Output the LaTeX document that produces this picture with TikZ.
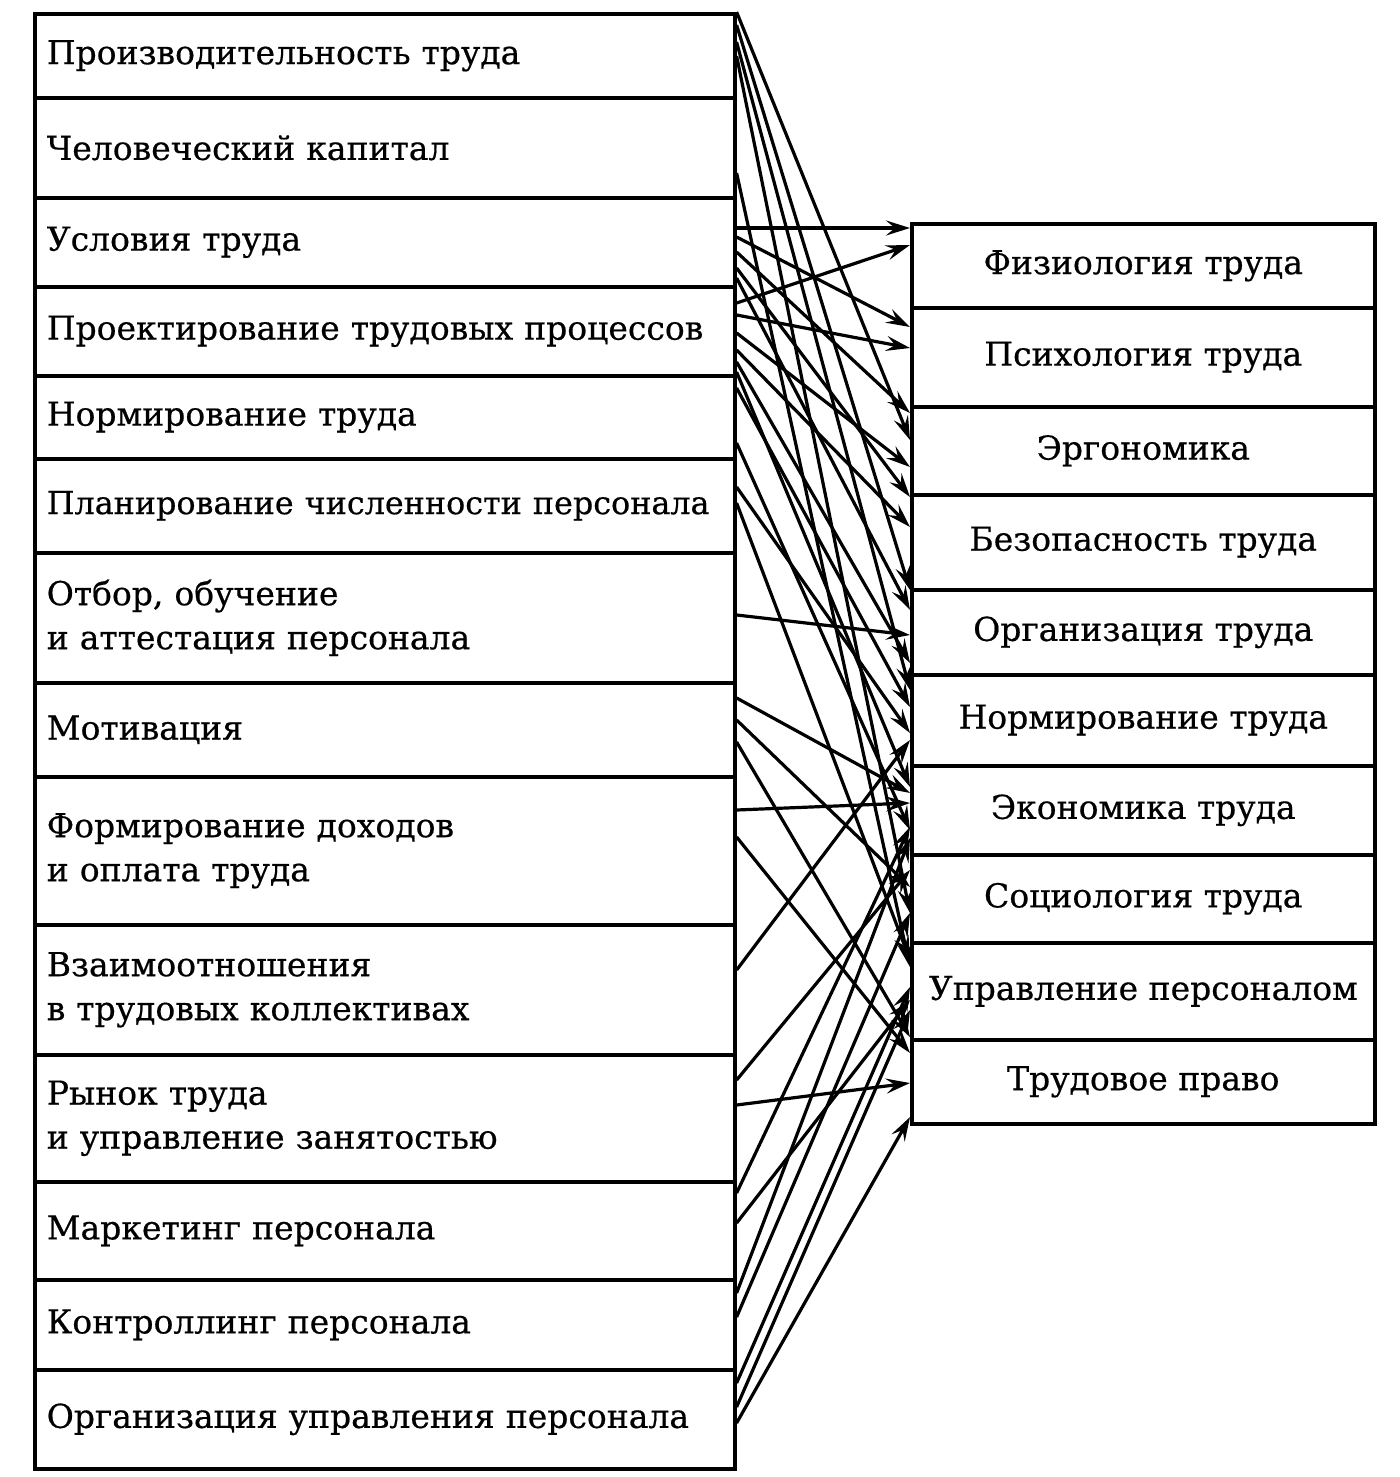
\documentclass[tikz,border=0pt]{standalone}
\usepackage{fontspec}
\setmainfont{DejaVu Serif}
\newfontfamily\rowfont[FakeBold=0.5]{DejaVu Serif}
\usetikzlibrary{arrows.meta}
\begin{document}
\begin{tikzpicture}[x=0.5pt,y=-0.5pt,
  rowbox/.style={draw,line width=1.8pt,anchor=north west,inner xsep=6pt,inner ysep=0pt,
    font=\rowfont\fontsize{16.5}{22}\selectfont},
  lrow/.style={rowbox,minimum width=350pt,text width=338pt,align=left},
  rrow/.style={rowbox,minimum width=231.5pt,align=center},
  arr/.style={line width=1.6pt,-{Stealth[length=12pt,width=7.5pt,inset=4.5pt]}}]
\useasboundingbox (0,0) rectangle (1400,1477);
\fill[white] (0,0) rectangle (1400,1477);
% left column
\node[lrow,minimum height=42pt] (l1) at (33,12) {Производительность труда};
\node[lrow,minimum height=50pt] (l2) at (33,96) {Человеческий капитал};
\node[lrow,minimum height=44.5pt] (l3) at (33,196) {Условия труда};
\node[lrow,minimum height=44.5pt] (l4) at (33,285) {\mbox{Проектирование трудовых процессов}};
\node[lrow,minimum height=41.5pt] (l5) at (33,374) {Нормирование труда};
\node[lrow,minimum height=47pt] (l6) at (33,457) {\mbox{\fontsize{15.9}{22}\selectfont Планирование численности персонала}};
\node[lrow,minimum height=65pt] (l7) at (33,551) {Отбор, обучение\\и аттестация персонала};
\node[lrow,minimum height=47pt] (l8) at (33,681) {Мотивация};
\node[lrow,minimum height=74pt] (l9) at (33,775) {Формирование доходов\\и оплата труда};
\node[lrow,minimum height=65pt] (l10) at (33,923) {Взаимоотношения\\в трудовых коллективах};
\node[lrow,minimum height=63.5pt] (l11) at (33,1053) {Рынок труда\\и управление занятостью};
\node[lrow,minimum height=49pt] (l12) at (33,1180) {Маркетинг персонала};
\node[lrow,minimum height=45pt] (l13) at (33,1278) {Контроллинг персонала};
\node[lrow,minimum height=49.5pt] (l14) at (33,1368) {\mbox{Организация управления персонала}};
% right column
\node[rrow,minimum height=42pt] (r1) at (910,222) {Физиология труда};
\node[rrow,minimum height=49.5pt] (r2) at (910,306) {Психология труда};
\node[rrow,minimum height=44pt] (r3) at (910,405) {Эргономика};
\node[rrow,minimum height=47.5pt] (r4) at (910,493) {Безопасность труда};
\node[rrow,minimum height=42.5pt] (r5) at (910,588) {Организация труда};
\node[rrow,minimum height=45.5pt] (r6) at (910,673) {Нормирование труда};
\node[rrow,minimum height=44.5pt] (r7) at (910,764) {Экономика труда};
\node[rrow,minimum height=44pt] (r8) at (910,853) {Социология труда};
\node[rrow,minimum height=48.5pt] (r9) at (910,941) {\mbox{Управление персоналом}};
\node[rrow,minimum height=42pt] (r10) at (910,1038) {Трудовое право};
% arrows
\foreach \s/\ya/\t/\yb in {
  l1/12/r3/440, l1/25/r5/590, l1/42/r6/690, l1/56/r8/913,
  l2/173/r9/967,
  l3/228/r1/228, l3/237/r2/327, l3/252/r3/413, l3/268/r4/497, l3/278/r5/610,
  l4/303/r1/245, l4/315/r2/348, l4/333/r3/467, l4/350/r4/527, l4/362/r5/663, l4/372/r7/787,
  l5/388/r6/707, l5/443/r7/830,
  l6/487/r6/733, l6/503/r9/960,
  l7/615/r5/635,
  l8/698/r7/793, l8/720/r8/887, l8/742/r9/1037,
  l9/810/r7/803, l9/837/r10/1053,
  l10/970/r6/740,
  l11/1080/r8/870, l11/1105/r10/1083,
  l12/1193/r7/827, l12/1223/r9/1000,
  l13/1293/r7/838, l13/1317/r8/913,
  l14/1383/r9/987, l14/1407/r9/1010, l14/1423/r10/1117}
  \draw[arr] (\s.east |- 0,\ya) -- (\t.west |- 0,\yb);
\end{tikzpicture}
\end{document}
